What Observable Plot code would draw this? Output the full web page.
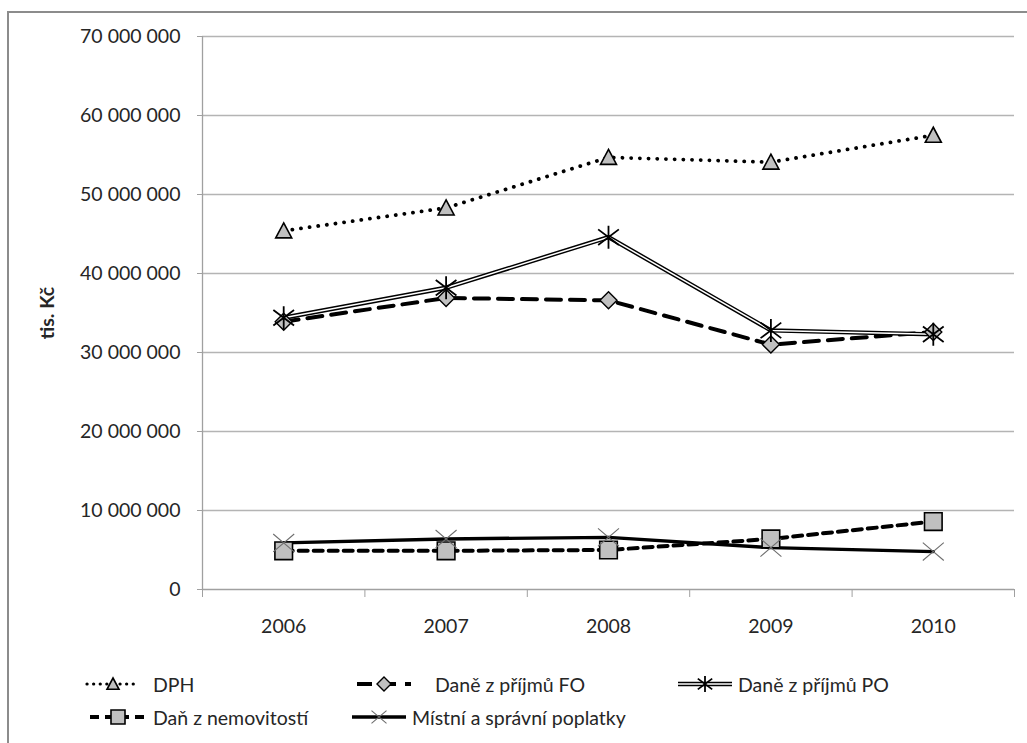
<!DOCTYPE html>
<html>
<head>
<meta charset="utf-8">
<script src="https://cdn.jsdelivr.net/npm/d3@7"></script>
<script src="https://cdn.jsdelivr.net/npm/@observablehq/plot@0.6"></script>
<style>
  body { margin: 0; background: #fff; font-family: Lato, "Open Sans", sans-serif; }
  #wrap { position: relative; width: 1027px; height: 743px; overflow: hidden; background: #fff; }
  #frame { position: absolute; left: 7px; top: 11px; right: -10px; bottom: -10px;
           border-left: 2px solid #8c8c8c; border-top: 2px solid #8c8c8c; }
  #chart { position: absolute; left: 0; top: 0; }
  .lg { position: absolute; display: flex; align-items: center; height: 30px;
        font-size: 19.5px; color: #262626; white-space: nowrap; }
  .lg svg { display: block; overflow: visible; }
</style>
</head>
<body>
<div id="wrap">
  <div id="frame"></div>
  <div id="chart"></div>
  <div id="legend"></div>
</div>
<script>
// Tax revenue (tis. Kč), 2006–2010
const years = [2006, 2007, 2008, 2009, 2010];
const dph         = [45400000, 48300000, 54700000, 54100000, 57500000];
const daneFO      = [33900000, 36900000, 36600000, 31000000, 32600000];
const danePO      = [34400000, 38200000, 44600000, 32800000, 32300000];
const danNemov    = [4900000, 4900000, 5000000, 6400000, 8600000];
const mistniPopl  = [5900000, 6400000, 6600000, 5300000, 4800000];
const yTicks = [0, 10000000, 20000000, 30000000, 40000000, 50000000, 60000000, 70000000];
const seriesNames = ["DPH", "Daně z příjmů FO", "Daně z příjmů PO", "Daň z nemovitostí", "Místní a správní poplatky"];

// Marker shapes (size = area, converted back to a half-extent)
const half = size => Math.sqrt(size / Math.PI);
const symTriangle = { draw(c, s) { const r = half(s); c.moveTo(0, -r); c.lineTo(r, r * 0.88); c.lineTo(-r, r * 0.88); c.closePath(); } };
const symDiamond  = { draw(c, s) { const r = half(s); c.moveTo(0, -r); c.lineTo(r, 0); c.lineTo(0, r); c.lineTo(-r, 0); c.closePath(); } };
const symSquare   = { draw(c, s) { const r = half(s); c.rect(-r, -r, 2 * r, 2 * r); } };
const symStar     = { draw(c, s) { const r = half(s), d = r * 0.9;
  c.moveTo(0, -r); c.lineTo(0, r); c.moveTo(-d, -d * 0.75); c.lineTo(d, d * 0.75); c.moveTo(-d, d * 0.75); c.lineTo(d, -d * 0.75); } };
const symTimes    = { draw(c, s) { const r = half(s);
  c.moveTo(-r, -r * 0.85); c.lineTo(r, r * 0.85); c.moveTo(-r, r * 0.85); c.lineTo(r, -r * 0.85); } };

const series = [
  { name: seriesNames[0], values: dph,        line: { strokeWidth: 3.8, strokeDasharray: "0.1 8.6", strokeLinecap: "round" },
    marker: { symbol: symTriangle, r: 8, fill: "#c0c0c0", stroke: "#000", strokeWidth: 1.6 },
    legend: { r: 6, dash: "0.1 6.5", width: 3.2 } },
  { name: seriesNames[1], values: daneFO,     line: { strokeWidth: 4, strokeDasharray: "15 9" },
    marker: { symbol: symDiamond, r: 8.5, fill: "#c0c0c0", stroke: "#000", strokeWidth: 1.4 },
    legend: { r: 7, dash: "15 9", width: 4 } },
  { name: seriesNames[2], values: danePO,     line: { strokeWidth: 4.4 }, double: true,
    marker: { symbol: symStar, r: 11.5, fill: "none", stroke: "#000", strokeWidth: 1.8 },
    legend: { r: 8, width: 4.4 } },
  { name: seriesNames[3], values: danNemov,   line: { strokeWidth: 4, strokeDasharray: "9 6" },
    marker: { symbol: symSquare, r: 8.8, fill: "#c0c0c0", stroke: "#000", strokeWidth: 1.6 },
    legend: { r: 7, dash: "9 6", width: 4 } },
  { name: seriesNames[4], values: mistniPopl, line: { strokeWidth: 3.4 },
    marker: { symbol: symTimes, r: 10.5, fill: "none", stroke: "#6e6e6e", strokeWidth: 1.1 },
    legend: { r: 7.5, width: 3.4 } }
];

const rows = s => years.map((year, i) => ({ year, value: s.values[i], name: s.name }));
const boundaries = [...years.map(y => y - 0.5), years[years.length - 1] + 0.5];
const czFormat = d3.formatLocale({ decimal: ",", thousands: " ", grouping: [3] }).format(",d");
const gridColor = "#b4b4b4";
const axisColor = "#a0a0a0";

const marks = [
  Plot.gridY(yTicks.slice(1), { stroke: gridColor, strokeOpacity: 1, strokeWidth: 1.3 }),
  Plot.ruleY([0], { stroke: axisColor, strokeWidth: 1.3 }),
  Plot.ruleX([boundaries[0]], { stroke: axisColor, strokeWidth: 1.3 }),
  Plot.axisY({ ticks: yTicks, tickSize: 5, tickPadding: 17, tickFormat: czFormat, stroke: axisColor,
               label: "tis. Kč", labelAnchor: "center", labelArrow: "none", labelOffset: 162 }),
  Plot.axisX({ ticks: boundaries, tickSize: 8, tickFormat: () => "", stroke: axisColor, label: null }),
  Plot.axisX({ ticks: years, tickSize: 0, tickPadding: 30, tickFormat: d => String(d), label: null })
];

for (const s of series) {
  marks.push(Plot.line(rows(s), { x: "year", y: "value", stroke: "#000", ...s.line }));
  if (s.double) marks.push(Plot.line(rows(s), { x: "year", y: "value", stroke: "#fff", strokeWidth: 1.5 }));
}
for (const s of series) {
  marks.push(Plot.dot(rows(s), { x: "year", y: "value", ...s.marker }));
}

const chart = Plot.plot({
  width: 1027,
  height: 645,
  marginTop: 36,
  marginBottom: 56,
  marginLeft: 202,
  marginRight: 13,
  style: { fontFamily: "Lato, 'Open Sans', sans-serif", fontSize: "19.5px", color: "#262626", background: "transparent" },
  x: { type: "linear", domain: [boundaries[0], boundaries[boundaries.length - 1]] },
  y: { type: "linear", domain: [0, 70000000] },
  marks
});
const lbl = chart.querySelector('[aria-label="y-axis label"]');
if (lbl) { lbl.setAttribute("font-weight", "bold"); lbl.style.fontWeight = "bold"; }
document.getElementById("chart").append(chart);

// Legend with line-and-marker keys
const legendPlaces = [
  { left: 85,  top: 684, w: 56, gap: 12 },
  { left: 355, top: 684, w: 58, gap: 22 },
  { left: 676, top: 684, w: 58, gap: 4 },
  { left: 88,  top: 717, w: 60, gap: 5 },
  { left: 350, top: 717, w: 58, gap: 4 }
];
const NS = "http://www.w3.org/2000/svg";
const legend = document.getElementById("legend");
series.forEach((s, i) => {
  const p = legendPlaces[i];
  const item = document.createElement("div");
  item.className = "lg";
  item.style.left = p.left + "px";
  item.style.top = (p.top - 15) + "px";
  const svg = document.createElementNS(NS, "svg");
  svg.setAttribute("width", p.w); svg.setAttribute("height", 20);
  const mid = p.w / 2;
  const addLine = (stroke, width, dash, cap) => {
    const l = document.createElementNS(NS, "line");
    l.setAttribute("x1", 2); l.setAttribute("x2", p.w - 2); l.setAttribute("y1", 10); l.setAttribute("y2", 10);
    l.setAttribute("stroke", stroke); l.setAttribute("stroke-width", width);
    if (dash) l.setAttribute("stroke-dasharray", dash);
    l.setAttribute("stroke-linecap", cap || "butt");
    svg.append(l);
  };
  addLine("#000", s.legend.width, s.legend.dash, s.line.strokeLinecap);
  if (s.double) addLine("#fff", 1.4);
  const path = d3.path();
  s.marker.symbol.draw(path, Math.PI * s.legend.r * s.legend.r);
  const m = document.createElementNS(NS, "path");
  m.setAttribute("d", path.toString());
  m.setAttribute("transform", `translate(${mid},10)`);
  m.setAttribute("fill", s.marker.fill);
  m.setAttribute("stroke", s.marker.stroke);
  m.setAttribute("stroke-width", s.marker.strokeWidth);
  svg.append(m);
  const t = document.createElement("span");
  t.textContent = s.name;
  t.style.marginLeft = p.gap + "px";
  item.append(svg, t);
  legend.append(item);
});
</script>
</body>
</html>
